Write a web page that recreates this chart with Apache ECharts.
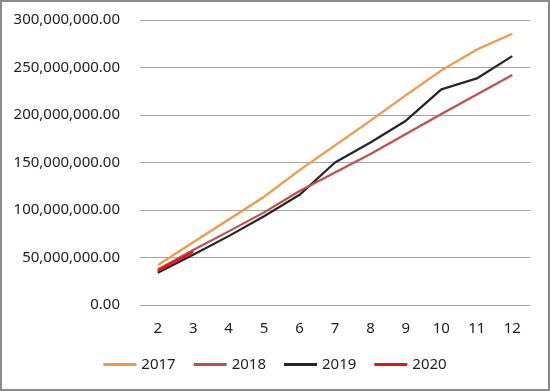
<!DOCTYPE html>
<html>
<head>
<meta charset="utf-8">
<script src="https://cdn.jsdelivr.net/npm/echarts@6/dist/echarts.min.js"></script>
<style>
  html, body { margin: 0; padding: 0; background: #fff; }
  #chart { width: 550px; height: 391px; }
</style>
</head>
<body>
<div id="chart"></div>
<script>
const months = ['2', '3', '4', '5', '6', '7', '8', '9', '10', '11', '12'];
const years = ['2017', '2018', '2019', '2020'];
const colors = ['#F79646', '#C0504D', '#262626', '#E8141B'];
const v2017 = [42000000, 66000000, 90000000, 114000000, 142000000, 168000000, 194000000, 221000000, 247000000, 269000000, 285500000];
const v2018 = [37500000, 58000000, 77500000, 97500000, 120000000, 139500000, 159000000, 180000000, 201000000, 221500000, 242000000];
const v2019 = [34000000, 53000000, 72500000, 93500000, 116000000, 150000000, 171000000, 194000000, 227000000, 238500000, 262000000];
const v2020 = [36000000, 56000000];

const fontFamily = '"Noto Sans", "Open Sans", sans-serif';
let chart = echarts.init(document.getElementById('chart'));
const allData = [v2017, v2018, v2019, v2020];
let series = [];
years.forEach((name, index)=>{
  series.push({
    name: name,
    type: 'line',
    data: allData[index],
    showSymbol: false,
    symbol: 'none',
    lineStyle: { color: colors[index], width: index === 3 ? 2.5 : 2.25 },
    itemStyle: { color: colors[index] },
    z: index === 3 ? 5 : 3 - index
  });
});
chart.setOption({
  animation: false,
  textStyle: { fontFamily },
  graphic: [{
    type: 'rect',
    shape: { x: 1, y: 1, width: 548, height: 389 },
    style: { fill: 'none', stroke: '#8a8a8a', lineWidth: 2 }
  }],
  grid: { left: 140, right: 20, top: 20, bottom: 86 },
  legend: {
    bottom: 14,
    left: 'center',
    itemWidth: 33,
    itemHeight: 3,
    itemGap: 18,
    icon: 'rect',
    textStyle: { fontSize: 15, color: '#222', fontFamily },
    data: years
  },
  xAxis: {
    type: 'category',
    data: months,
    axisLine: { show: false },
    axisTick: { show: false },
    axisLabel: { fontSize: 15, color: '#222', margin: 16, fontFamily }
  },
  yAxis: {
    type: 'value',
    min: 0,
    max: 300000000,
    interval: 50000000,
    axisLine: { show: false },
    axisTick: { show: false },
    splitLine: { lineStyle: { color: '#a6a6a6', width: 1 } },
    axisLabel: {
      fontSize: 15,
      color: '#222',
      margin: 20,
      fontFamily,
      formatter: (v)=>v.toLocaleString('en-US', { minimumFractionDigits: 2, maximumFractionDigits: 2 })
    }
  },
  series
});
</script>
</body>
</html>
